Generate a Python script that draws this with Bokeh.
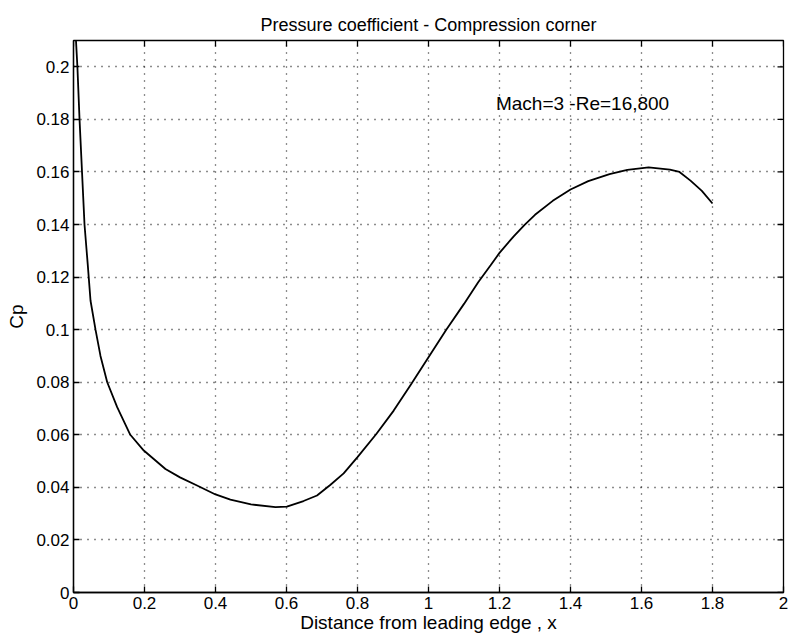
import math
from bokeh.plotting import figure
from bokeh.models import Range1d, FixedTicker, Label
from bokeh.embed import file_html
from bokeh.resources import INLINE

# Data
x_vals = [0.0, 0.005, 0.011, 0.017, 0.024, 0.031, 0.040, 0.048, 0.062, 0.076,
          0.095, 0.123, 0.160, 0.198, 0.259, 0.30, 0.348, 0.40, 0.442, 0.50,
          0.569, 0.601, 0.648, 0.686, 0.724, 0.761, 0.80, 0.853, 0.902, 0.951,
          1.0, 1.05, 1.10, 1.14, 1.175, 1.20, 1.24, 1.27, 1.30, 1.35,
          1.40, 1.45, 1.51, 1.56, 1.62, 1.68, 1.707, 1.738, 1.77, 1.80]
cp_vals = [0.24, 0.215, 0.20, 0.18, 0.16, 0.14, 0.125, 0.111, 0.10, 0.090,
           0.080, 0.0705, 0.060, 0.054, 0.047, 0.0438, 0.0407, 0.0373, 0.0353, 0.0335,
           0.0325, 0.0327, 0.0348, 0.0369, 0.041, 0.0453, 0.0515, 0.0603, 0.0692, 0.0792,
           0.0895, 0.10, 0.1098, 0.118, 0.1245, 0.1292, 0.1355, 0.1398, 0.1437, 0.1490,
           0.1533, 0.1565, 0.1592, 0.1608, 0.1617, 0.1609, 0.160, 0.1567, 0.1528, 0.148]

x_ticks = [0, 0.2, 0.4, 0.6, 0.8, 1.0, 1.2, 1.4, 1.6, 1.8, 2.0]
x_tick_labels = ["0", "0.2", "0.4", "0.6", "0.8", "1", "1.2", "1.4", "1.6", "1.8", "2"]
y_ticks = [0, 0.02, 0.04, 0.06, 0.08, 0.1, 0.12, 0.14, 0.16, 0.18, 0.2]
y_tick_labels = ["0", "0.02", "0.04", "0.06", "0.08", "0.1", "0.12", "0.14", "0.16", "0.18", "0.2"]
x_min, x_max = 0, 2
y_min, y_max = 0, 0.21

title_text = "Pressure coefficient - Compression corner"
x_label = "Distance from leading edge , x"
y_label = "Cp"
note_text = "Mach=3 -Re=16,800"
note_x, note_y = 1.19, 0.186

FONT = "Liberation Sans"

p = figure(width=788, height=638, output_backend="svg", toolbar_location=None,
           x_range=Range1d(x_min, x_max), y_range=Range1d(y_min, y_max),
           min_border_left=73, min_border_right=5, min_border_top=40, min_border_bottom=46)

p.title.text = title_text
p.title.align = "center"
p.title.text_font = FONT
p.title.text_font_size = "18px"
p.title.text_font_style = "normal"
p.title.text_color = "black"
p.title.offset = 0
p.title.standoff = 12

p.background_fill_color = "white"
p.border_fill_color = "white"
p.outline_line_color = "black"
p.outline_line_width = 1.3

p.line(x_vals, cp_vals, line_color="black", line_width=1.8)

# inward ticks on the top and right edges of the box
p.scatter(x=x_ticks, y=[y_max] * len(x_ticks), marker="dash", angle=math.pi / 2,
          size=12, line_color="black", line_width=1.3)
p.scatter(x=[x_max] * len(y_ticks), y=y_ticks, marker="dash",
          size=12, line_color="black", line_width=1.3)

lab = Label(x=note_x, y=note_y, text=note_text, text_font=FONT, text_font_size="19px",
            text_baseline="middle", text_align="left", text_color="black")
p.add_layout(lab)

xax = p.xaxis[0]
yax = p.yaxis[0]
for ax, ticks, labels in ((xax, x_ticks, x_tick_labels), (yax, y_ticks, y_tick_labels)):
    ax.ticker = FixedTicker(ticks=ticks)
    ax.major_label_overrides = {t: l for t, l in zip(ticks, labels)}
    ax.minor_tick_line_color = None
    ax.major_tick_in = 6
    ax.major_tick_out = 0
    ax.axis_line_color = "black"
    ax.axis_line_width = 1.3
    ax.major_tick_line_color = "black"
    ax.major_tick_line_width = 1.3
    ax.major_label_text_font = FONT
    ax.major_label_text_font_size = "17px"
    ax.major_label_text_color = "black"
    ax.axis_label_text_font = FONT
    ax.axis_label_text_font_size = "19px"
    ax.axis_label_text_font_style = "normal"
    ax.axis_label_text_color = "black"

xax.axis_label = x_label
xax.major_label_standoff = 4
xax.axis_label_standoff = 0
yax.axis_label = y_label
yax.major_label_standoff = 4
yax.axis_label_standoff = 6

for g in (p.xgrid[0], p.ygrid[0]):
    g.grid_line_color = "black"
    g.grid_line_dash = "1 6"
    g.grid_line_width = 1.3
    g.grid_line_alpha = 0.9
p.xgrid[0].ticker = FixedTicker(ticks=x_ticks)
p.ygrid[0].ticker = FixedTicker(ticks=y_ticks)

open("out.html", "w").write(file_html(p, INLINE))
